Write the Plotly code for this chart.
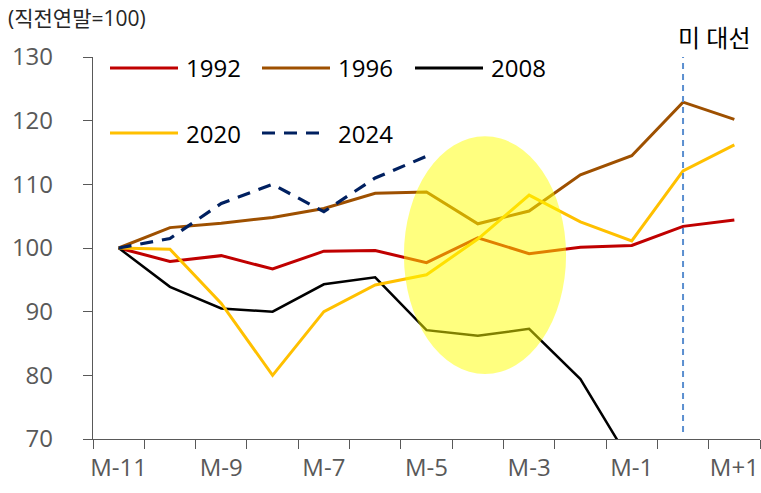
import plotly.graph_objects as go

# ---- data ----
months = ["M-11", "M-10", "M-9", "M-8", "M-7", "M-6", "M-5", "M-4", "M-3", "M-2", "M-1", "M", "M+1"]
v1992 = [100, 97.9, 98.8, 96.7, 99.5, 99.6, 97.7, 101.6, 99.1, 100.1, 100.4, 103.4, 104.4]
v1996 = [100, 103.2, 103.9, 104.8, 106.2, 108.6, 108.8, 103.8, 105.8, 111.5, 114.5, 122.9, 120.2]
v2008 = [100, 93.9, 90.5, 90.0, 94.3, 95.4, 87.1, 86.2, 87.3, 79.4, 66.1, None, None]
v2020 = [100, 99.8, 91.3, 80.0, 90.0, 94.2, 95.8, 101.4, 108.3, 104.1, 101.1, 112.1, 116.2]
v2024 = [100, 101.5, 107.0, 110.0, 105.7, 111.0, 114.4, None, None, None, None, None, None]
series_names = ["1992", "1996", "2008", "2020", "2024"]
y_ticks = [70, 80, 90, 100, 110, 120, 130]
election_month = "M"
highlight_months = (5.56, 8.72)   # ellipse horizontal span (category index)
highlight_values = (80.2, 117.55)  # ellipse vertical span
unit_label = "(직전연말=100)"
event_label = "미 대선"

series = [v1992, v1996, v2008, v2020, v2024]
colors = ["#C00000", "#9E5000", "#000000", "#FFC000", "#002060"]
widths = [3, 3, 2.5, 3, 3.2]
dashes = ["solid", "solid", "solid", "solid", "dash"]

FONT = "Open Sans, Noto Sans CJK KR, sans-serif"
x = list(range(len(months)))

fig = go.Figure()
for name, vals, c, w, d in zip(series_names, series, colors, widths, dashes):
    fig.add_trace(go.Scatter(
        x=x, y=vals, mode="lines", name=name,
        line=dict(color=c, width=w, dash=("13px,9px" if d == "dash" else d)),
        showlegend=False, connectgaps=False,
    ))

# plot-area pixel geometry
W, H = 761, 493
L, R, T, B = 93, 1, 57, 54
pw, ph = W - L - R, H - T - B

def px(xp):
    return (xp - L) / pw

def py(yp):
    return (H - B - yp) / ph

shapes = []
annotations = []

# highlight ellipse
shapes.append(dict(type="circle", xref="x", yref="y",
                   x0=highlight_months[0], x1=highlight_months[1],
                   y0=highlight_values[0], y1=highlight_values[1],
                   fillcolor="rgba(255,255,0,0.5)", line=dict(width=0), layer="above"))

# election vertical line
ex = months.index(election_month)
shapes.append(dict(type="line", xref="x", yref="y", x0=ex, x1=ex, y0=71.1, y1=130,
                   line=dict(color="#5B8FD0", width=2, dash="6px,5px"), layer="above"))

# manual legend
col_x = [110, 262, 415]
row_y = [68, 133]
for i, (name, c, d) in enumerate(zip(series_names, colors, dashes)):
    r, cc = divmod(i, 3)
    x0 = col_x[cc]
    y0 = row_y[r]
    shapes.append(dict(type="line", xref="paper", yref="paper",
                       x0=px(x0), x1=px(x0 + 68 if d == "solid" else x0 + 58), y0=py(y0), y1=py(y0),
                       line=dict(color=c, width=3, dash=("13px,9px" if d == "dash" else "solid"))))
    annotations.append(dict(xref="paper", yref="paper", x=px(x0 + 74), y=py(y0),
                            text=name, showarrow=False, xanchor="left", yanchor="middle",
                            font=dict(family=FONT, size=24, color="#000000")))

annotations.append(dict(xref="paper", yref="paper", x=px(6), y=py(18), text=unit_label,
                        showarrow=False, xanchor="left", yanchor="middle",
                        font=dict(family=FONT, size=21, color="#262626")))
annotations.append(dict(xref="paper", yref="paper", x=px(714), y=py(38), text=event_label,
                        showarrow=False, xanchor="center", yanchor="middle",
                        font=dict(family=FONT, size=24, color="#000000")))

fig.update_layout(
    width=W, height=H,
    margin=dict(l=L, r=R, t=T, b=B),
    paper_bgcolor="white", plot_bgcolor="white",
    shapes=shapes, annotations=annotations,
    font=dict(family=FONT),
    xaxis=dict(
        range=[-0.5, len(months) - 0.5],
        tickvals=x[::2], ticktext=months[::2],
        ticks="", showgrid=False, zeroline=False,
        showline=True, linecolor="#595959", linewidth=1.3,
        tickfont=dict(family=FONT, size=24, color="#595959"),
        minor=dict(tickvals=[i - 0.5 for i in range(len(months) + 1)], ticks="outside",
                   ticklen=9, tickcolor="#595959", tickwidth=1.3, showgrid=False),
        ticklabelstandoff=7,
    ),
    yaxis=dict(
        range=[70, 130], tickvals=y_ticks,
        ticks="outside", ticklen=9, tickcolor="#595959", tickwidth=1.3,
        showgrid=False, zeroline=False,
        showline=True, linecolor="#595959", linewidth=1.3,
        tickfont=dict(family=FONT, size=24, color="#595959"),
        ticklabelstandoff=25,
    ),
)

fig.write_html("out.html")
